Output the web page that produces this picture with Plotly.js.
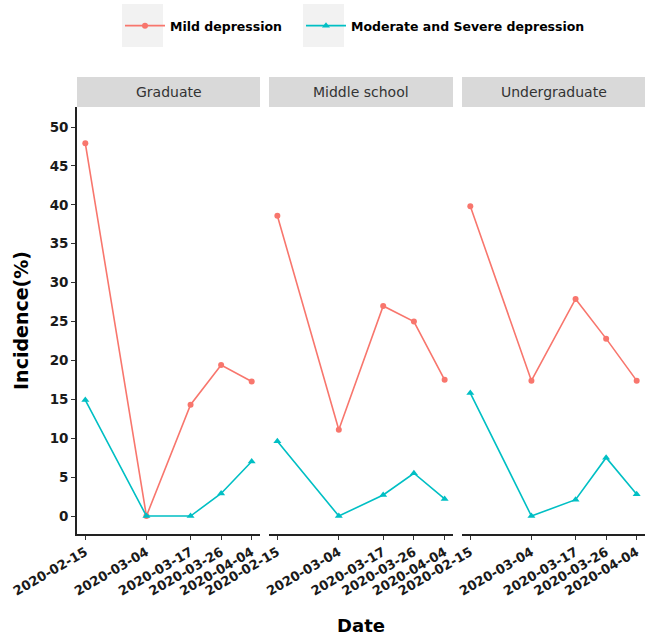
<!DOCTYPE html>
<html>
<head>
<meta charset="utf-8">
<script src="https://cdn.plot.ly/plotly-3.0.1.min.js"></script>
<style>html,body{margin:0;padding:0;background:#fff;}</style>
</head>
<body>
<div id="chart" style="width:645px;height:637px;"></div>
<script>
// ---- data ----
const dates = ['2020-02-15', '2020-03-04', '2020-03-17', '2020-03-26', '2020-04-04'];
const tickLabels = ['2020-02-15', '2020-03-04', '2020-03-17', '2020-03-26', '2020-04-04'];
const groups = ['Graduate', 'Middle school', 'Undergraduate'];
const seriesNames = ['Mild depression', 'Moderate and Severe depression'];

const mildGraduate = [47.9, 0.0, 14.3, 19.4, 17.3];
const mildMiddle = [38.6, 11.1, 27.0, 25.0, 17.5];
const mildUndergrad = [39.8, 17.4, 27.9, 22.8, 17.4];

const severeGraduate = [14.9, 0.0, 0.0, 2.9, 7.0];
const severeMiddle = [9.6, 0.0, 2.7, 5.5, 2.2];
const severeUndergrad = [15.8, 0.0, 2.1, 7.5, 2.8];

// ---- styling ----
const FONT = 'DejaVu Sans, Liberation Sans, Arial, sans-serif';
const RED = '#F8766D';
const CYAN = '#00BFC4';
const axisKeys = ['x', 'x2', 'x3'];
const mildSets = [mildGraduate, mildMiddle, mildUndergrad];
const severeSets = [severeGraduate, severeMiddle, severeUndergrad];

const traces = [];
groups.forEach((g, i) => {
  traces.push({
    type: 'scatter', mode: 'lines+markers', x: dates, y: mildSets[i],
    xaxis: axisKeys[i], yaxis: 'y', name: seriesNames[0], legendgroup: 'mild',
    legend: 'legend', showlegend: i === 0,
    line: {color: RED, width: 1.6}, marker: {color: RED, size: 6, symbol: 'circle'}
  });
});
groups.forEach((g, i) => {
  traces.push({
    type: 'scatter', mode: 'lines+markers', x: dates, y: severeSets[i],
    xaxis: axisKeys[i], yaxis: 'y', name: seriesNames[1], legendgroup: 'severe',
    legend: 'legend2', showlegend: i === 0,
    line: {color: CYAN, width: 1.6}, marker: {color: CYAN, size: 7, symbol: 'triangle-up'}
  });
});

const W = 568, L = 77;
const px2x = p => (p - L) / W;
const py2y = p => (534 - p) / 427;
const xRange = ['2020-02-12 13:12', '2020-04-06 10:48'];
const domains = [[0, px2x(260)], [px2x(269), px2x(453)], [px2x(462), 1]];

function xAxis(i) {
  const ax = {
    domain: domains[i], anchor: 'y', type: 'date', range: xRange,
    tickmode: 'array', tickvals: dates, ticktext: tickLabels, tickangle: -30,
    showgrid: false, zeroline: false, showline: true, linecolor: '#222', linewidth: 1.8,
    ticks: 'outside', ticklen: 4, tickwidth: 1, tickcolor: '#333',
    tickfont: {family: FONT, size: 13, color: '#1a1a1a', weight: 'bold'}
  };
  if (i === 1) ax.title = {text: 'Date', font: {family: FONT, size: 18, color: '#000', weight: 'bold'}, standoff: 22};
  return ax;
}

const shapes = [];
const annotations = [];
groups.forEach((g, i) => {
  shapes.push({type: 'rect', xref: axisKeys[i] + ' domain', yref: 'paper',
    x0: 0, x1: 1, y0: 1, y1: 1 + 30 / 427, fillcolor: '#d9d9d9', line: {width: 0}, layer: 'below'});
  annotations.push({xref: axisKeys[i] + ' domain', yref: 'paper', x: 0.5, y: 1 + 15 / 427,
    text: g, showarrow: false, xanchor: 'center', yanchor: 'middle',
    font: {family: FONT, size: 14, color: '#333'}});
});
// legend key backgrounds
shapes.push({type: 'rect', xref: 'paper', yref: 'paper', x0: px2x(122), x1: px2x(163), y0: py2y(47), y1: py2y(4), fillcolor: '#f2f2f2', line: {width: 0}});
shapes.push({type: 'rect', xref: 'paper', yref: 'paper', x0: px2x(303), x1: px2x(344), y0: py2y(47), y1: py2y(4), fillcolor: '#f2f2f2', line: {width: 0}});

const legendFont = {family: FONT, size: 12.5, color: '#000', weight: 'bold'};
const layout = {
  width: 645, height: 637,
  margin: {l: L, r: 0, t: 107, b: 103},
  paper_bgcolor: '#fff', plot_bgcolor: '#fff',
  showlegend: true,
  legend: {orientation: 'h', x: px2x(120), xanchor: 'left', y: py2y(26), yanchor: 'middle',
    font: legendFont, bgcolor: 'rgba(0,0,0,0)', itemwidth: 40},
  legend2: {orientation: 'h', x: px2x(301), xanchor: 'left', y: py2y(26), yanchor: 'middle',
    font: legendFont, bgcolor: 'rgba(0,0,0,0)', itemwidth: 40},
  xaxis: xAxis(0), xaxis2: xAxis(1), xaxis3: xAxis(2),
  yaxis: {domain: [0, 1], anchor: 'x', range: [-2.31, 52.57],
    tickmode: 'array', tickvals: [0, 5, 10, 15, 20, 25, 30, 35, 40, 45, 50],
    showgrid: false, zeroline: false, showline: true, linecolor: '#222', linewidth: 1.8,
    ticks: 'outside', ticklen: 4, tickwidth: 1, tickcolor: '#333',
    tickfont: {family: FONT, size: 13.5, color: '#1a1a1a', weight: 'bold'},
    title: {text: 'Incidence(%)', font: {family: FONT, size: 19, color: '#000', weight: 'bold'}, standoff: 16}},
  shapes: shapes, annotations: annotations
};

Plotly.newPlot('chart', traces, layout, {displayModeBar: false, staticPlot: true});
</script>
</body>
</html>
